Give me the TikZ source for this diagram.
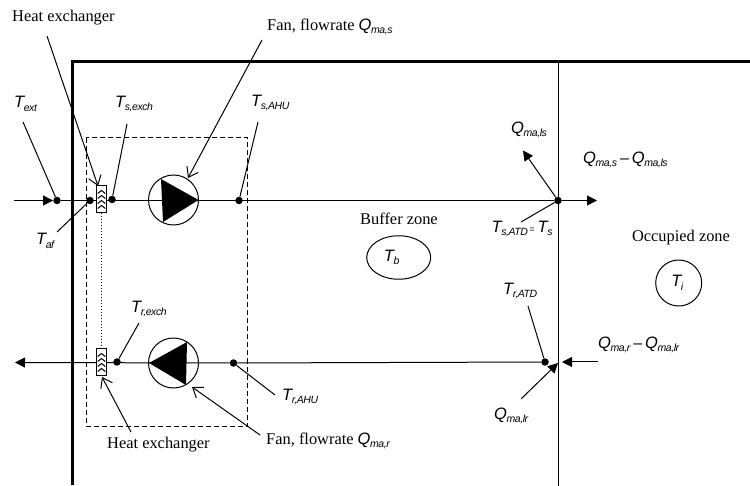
\documentclass[tikz,border=0pt]{standalone}
\usepackage{fontspec}
\setmainfont{Liberation Serif}
\setsansfont{Liberation Sans}
\usetikzlibrary{arrows.meta,shapes.geometric}
\newcommand{\qsym}[2]{{\sffamily\itshape\fontsize{16.5}{18}\selectfont #1\kern-0.5pt\raisebox{-3.5pt}{\fontsize{10.5}{12}\selectfont\addfontfeature{LetterSpace=-4}#2}}}
\newcommand{\qdash}{{\sffamily\fontsize{16}{16}\selectfont\kern3pt--\kern3pt}}
\tikzset{x=1pt,y=-1pt,
  thinline/.style={line width=1pt,black},
  wall/.style={line width=3pt,black},
  dot/.style={circle,fill=black,inner sep=0pt,minimum size=7.5pt},
  fan/.style={circle,draw=black,line width=1pt,minimum size=50pt,inner sep=0pt},
  hx/.style={draw=black,line width=1pt,fill=white,minimum width=10.5pt,minimum height=27pt,inner sep=0pt},
  zone/.style={draw=black,line width=1pt,ellipse,inner sep=0pt},
  lab/.style={inner sep=0pt,font=\fontsize{16.4}{18}\selectfont},
  sym/.style={inner sep=0pt},
  solidtip/.style={-{Triangle[length=10pt,width=10pt]}},
  opentip/.style={-{Straight Barb[length=9pt,width=13pt,line width=1pt]}}}
\begin{document}
\begin{tikzpicture}
\useasboundingbox (0,0) rectangle (750,486);
\fill[white] (0,0) rectangle (750,486);
% walls
\coordinate (wa) at (72.5,485);\coordinate (wb) at (72.5,62);\coordinate (wc) at (750,62);
\draw[wall,line join=miter] (wa) -- (wb) -- (wc);
\coordinate (pa) at (558,62);\coordinate (pb) at (558,486);
\draw[thinline] (pa) -- (pb);
% dashed box
\coordinate (ba) at (86,138);\coordinate (bb) at (247.5,426);
\draw[thinline,dash pattern=on 5pt off 3pt] (ba) rectangle (bb);
% dots
\node[dot] (text) at (57,200.5) {};
\node[dot] (taf) at (90,200.5) {};
\node[dot] (tse) at (112,199.5) {};
\node[dot] (tsa) at (239,200.5) {};
\node[dot] (tatd) at (558,200.5) {};
\node[dot] (tre) at (117,362) {};
\node[dot] (tra) at (233.5,363) {};
\node[dot] (trd) at (545,362) {};
% main lines
\coordinate (sin) at (14,200.5);\coordinate (sout) at (597,200.5);
\coordinate (rout) at (15,362.5);
\draw[thinline,solidtip] (sin) -- (text);
\draw[thinline,solidtip] (tatd) -- (sout);
\draw[thinline] (text) -- (tatd);
\draw[thinline] (trd) -- (tra);
\draw[thinline,solidtip] (tra) -- (rout);
% heat exchangers
\node[hx] (hxa) at (101.5,199.5) {};
\node[hx] (hxb) at (101.5,362.5) {};
\draw[thinline,dotted] (hxa.south) -- (hxb.north);
\foreach \n in {hxa,hxb}{
  \foreach \d in {-7.5,-2.5,2.5,7.5}{
    \draw[line width=1pt] ([shift={(-3.8,\d+1.5)}]\n.center) -- ++(3.8,-3) -- ++(3.8,3);
  }
}
% fans
\node[fan] (fana) at (173.5,200) {};
\node[fan] (fanb) at (173.5,363) {};
\fill[black] (161,179) -- (198.5,200) -- (163,222) -- cycle;
\fill[black] (149,363) -- (187,342) -- (186,385) -- cycle;
% zones
\node[zone,minimum width=64pt,minimum height=43.5pt] (zb) at (398.7,257.5) {\kern-14pt\qsym{T}{b}};
\node[zone,circle,minimum size=46pt] (zi) at (678.7,283) {\kern-3pt\qsym{T}{i}};
% texts
\node[lab,anchor=west] (lhea) at (12,18) {Heat exchanger};
\node[lab,anchor=west] (lfana) at (267,27) {Fan, flowrate \qsym{Q}{ma,s}};
\node[lab] (lbuf) at (399,219) {Buffer zone};
\node[lab] (locc) at (681,238) {Occupied zone};
\node[lab,anchor=west] (lheb) at (107,445) {Heat exchanger};
\node[lab,anchor=west] (lfanb) at (266,441) {Fan, flowrate \qsym{Q}{ma,r}};
\node[sym,anchor=west] (ltext) at (14,104) {\qsym{T}{ext}};
\node[sym,anchor=west] (ltse) at (115,104) {\qsym{T}{s,exch}};
\node[sym,anchor=west] (ltsa) at (251,103) {\qsym{T}{s,AHU}};
\node[sym,anchor=west] (ltaf) at (36,241) {\qsym{T}{af}};
\node[sym,anchor=west] (lqls) at (511,130) {\qsym{Q}{ma,ls}};
\node[sym,anchor=west] (lqd) at (583,160) {\qsym{Q}{ma,s}\qdash\qsym{Q}{ma,ls}};
\node[sym,anchor=west] (ltsd) at (491.5,229) {\qsym{T}{s,ATD}{\sffamily\fontsize{9}{10}\selectfont\,=\kern3pt}\qsym{T}{s}};
\node[sym,anchor=west] (ltrd) at (503,291) {\qsym{T}{r,ATD}};
\node[sym,anchor=west] (lqr) at (598,345) {\qsym{Q}{ma,r}\qdash\qsym{Q}{ma,lr}};
\node[sym,anchor=west] (lqlr) at (494,416) {\qsym{Q}{ma,lr}};
\node[sym,anchor=west] (ltre) at (131,309) {\qsym{T}{r,exch}};
\node[sym,anchor=west] (ltra) at (282,397) {\qsym{T}{r,AHU}};
% leaders
\coordinate (c1) at (47,36);\coordinate (c1e) at (98,186);
\draw[thinline,opentip] (c1) -- (c1e);
\coordinate (c2) at (262,40);\coordinate (c2e) at (188,178);
\draw[thinline,opentip] (c2) -- (c2e);
\coordinate (c3) at (23,122);
\draw[thinline] (c3) -- (text);
\coordinate (c4) at (127,124);
\draw[thinline] (c4) -- (tse);
\coordinate (c5) at (258,122);
\draw[thinline] (c5) -- (tsa);
\coordinate (c6) at (57,232);
\draw[thinline] (c6) -- (taf);
\coordinate (c7e) at (523,150.5);
\draw[thinline,solidtip] (tatd) -- (c7e);
\coordinate (c8) at (521,222);
\draw[thinline] (c8) -- (tatd);
\coordinate (c9) at (528,306);
\draw[thinline] (c9) -- (trd);
\coordinate (c10) at (598,362);\coordinate (c10e) at (562,362);
\draw[thinline,solidtip] (c10) -- (c10e);
\coordinate (c11) at (521,399);\coordinate (c11e) at (558,363);
\draw[thinline,solidtip] (c11) -- (c11e);
\coordinate (c12) at (139,323);
\draw[thinline] (c12) -- (tre);
\coordinate (c13) at (275,395);
\draw[thinline] (c13) -- (tra);
\coordinate (c14) at (260,435);\coordinate (c14e) at (192,387);
\draw[thinline,opentip] (c14) -- (c14e);
\coordinate (c15) at (131,432);\coordinate (c15e) at (102,377);
\draw[thinline,opentip] (c15) -- (c15e);
\end{tikzpicture}
\end{document}
